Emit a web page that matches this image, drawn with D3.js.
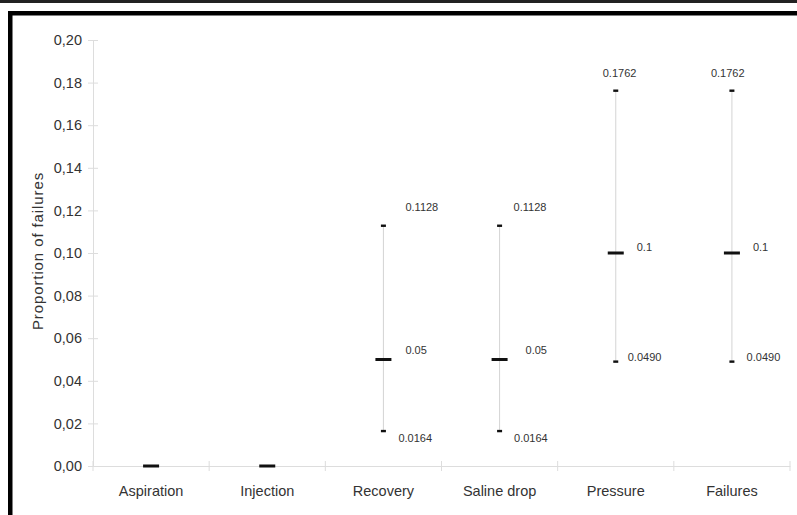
<!DOCTYPE html>
<html><head><meta charset="utf-8">
<script src="https://cdn.jsdelivr.net/npm/d3@7"></script>
<style>
html,body{margin:0;padding:0;background:#fff;}
svg{display:block;font-family:"Liberation Sans",Arial,sans-serif;}
</style></head>
<body>
<svg id="chart" width="797" height="515"></svg>
<script>
// ---- data ----
const categories = ["Aspiration","Injection","Recovery","Saline drop","Pressure","Failures"];
const means = [0, 0, 0.05, 0.05, 0.1, 0.1];
const lows  = [null, null, 0.0164, 0.0164, 0.0490, 0.0490];
const highs = [null, null, 0.1128, 0.1128, 0.1762, 0.1762];
const meanLabels = [null, null, "0.05", "0.05", "0.1", "0.1"];
const lowLabels  = [null, null, "0.0164", "0.0164", "0.0490", "0.0490"];
const highLabels = [null, null, "0.1128", "0.1128", "0.1762", "0.1762"];
const yTicks = [0, 0.02, 0.04, 0.06, 0.08, 0.10, 0.12, 0.14, 0.16, 0.18, 0.20];
const yTitle = "Proportion of failures";

// ---- layout (label offsets, px) ----
const highOff = [null, null, [22,-19], [14,-19], [-13,-18], [-21,-18]];
const meanOff = [null, null, [22,-9.5], [26,-9.5], [21,-6], [21,-6]];
const lowOff  = [null, null, [15,7], [14.5,7], [12,-4.3], [14.7,-4.3]];

const svg = d3.select("#chart");
// frame
svg.append("rect").attr("x",0).attr("y",0).attr("width",797).attr("height",3).attr("fill","#222");
svg.append("rect").attr("x",8).attr("y",11).attr("width",789).attr("height",4.5).attr("fill","#000");
svg.append("rect").attr("x",8).attr("y",11).attr("width",4.5).attr("height",504).attr("fill","#000");

const x = d3.scaleBand().domain(categories).range([93, 790]).padding(0);
const y = d3.scaleLinear().domain([0, 0.2]).range([466, 40]);
const fmt = d => d3.format(".2f")(d).replace(".", ",");

// y axis
const yAxis = svg.append("g").attr("transform","translate(93,0)")
  .call(d3.axisLeft(y).tickValues(yTicks).tickFormat(fmt).tickSizeInner(5).tickSizeOuter(0).tickPadding(6));
yAxis.select(".domain").attr("stroke","#ddd");
yAxis.selectAll(".tick line").attr("stroke","#ddd").attr("x1",-5).attr("x2",5);
yAxis.selectAll(".tick text").attr("fill","#333").attr("font-size","14.5px")
  .attr("font-family","Liberation Sans, Arial, sans-serif");

// x axis
const xAxis = svg.append("g").attr("transform","translate(0,466)")
  .call(d3.axisBottom(x).tickSize(0).tickPadding(0));
xAxis.select(".domain").attr("stroke","#ddd");
xAxis.selectAll(".tick text").attr("fill","#333").attr("font-size","14.5px")
  .attr("font-family","Liberation Sans, Arial, sans-serif").attr("dy",null).attr("y",30);
// boundary ticks
const bounds = categories.map(c => x(c)).concat([x.range()[1]]);
svg.append("g").selectAll("line").data(bounds).join("line")
  .attr("x1", d => d).attr("x2", d => d).attr("y1", 461).attr("y2", 471)
  .attr("stroke","#ddd");

// y title
svg.append("text").attr("transform","translate(43,251) rotate(-90)")
  .attr("text-anchor","middle").attr("font-size","15px").attr("fill","#333")
  .attr("letter-spacing","0.9px").text(yTitle);

const cx = i => x(categories[i]) + x.bandwidth() / 2;
const idx = d3.range(categories.length);
const withCI = idx.filter(i => lows[i] !== null);

// whiskers
svg.append("g").selectAll("line").data(withCI).join("line")
  .attr("x1", cx).attr("x2", cx)
  .attr("y1", i => y(lows[i])).attr("y2", i => y(highs[i]))
  .attr("stroke","#d4d4d4").attr("stroke-width",1);

// caps
const caps = withCI.flatMap(i => [[i, lows[i]], [i, highs[i]]]);
svg.append("g").selectAll("rect").data(caps).join("rect")
  .attr("x", d => cx(d[0]) - 2.5).attr("y", d => y(d[1]) - 1.2)
  .attr("width", 5).attr("height", 2.4).attr("fill","#111");

// means
svg.append("g").selectAll("rect").data(idx).join("rect")
  .attr("x", i => cx(i) - 8).attr("y", i => y(means[i]) - 1.5)
  .attr("width", 16).attr("height", 3).attr("fill","#111");

// labels
function addLabels(vals, labs, offs) {
  svg.append("g").selectAll("text").data(withCI).join("text")
    .attr("x", i => cx(i) + offs[i][0])
    .attr("y", i => y(vals[i]) + offs[i][1])
    .attr("dy","0.35em").attr("font-size","11px").attr("fill","#333")
    .text(i => labs[i]);
}
addLabels(highs, highLabels, highOff);
addLabels(means, meanLabels, meanOff);
addLabels(lows, lowLabels, lowOff);
</script>
</body></html>
